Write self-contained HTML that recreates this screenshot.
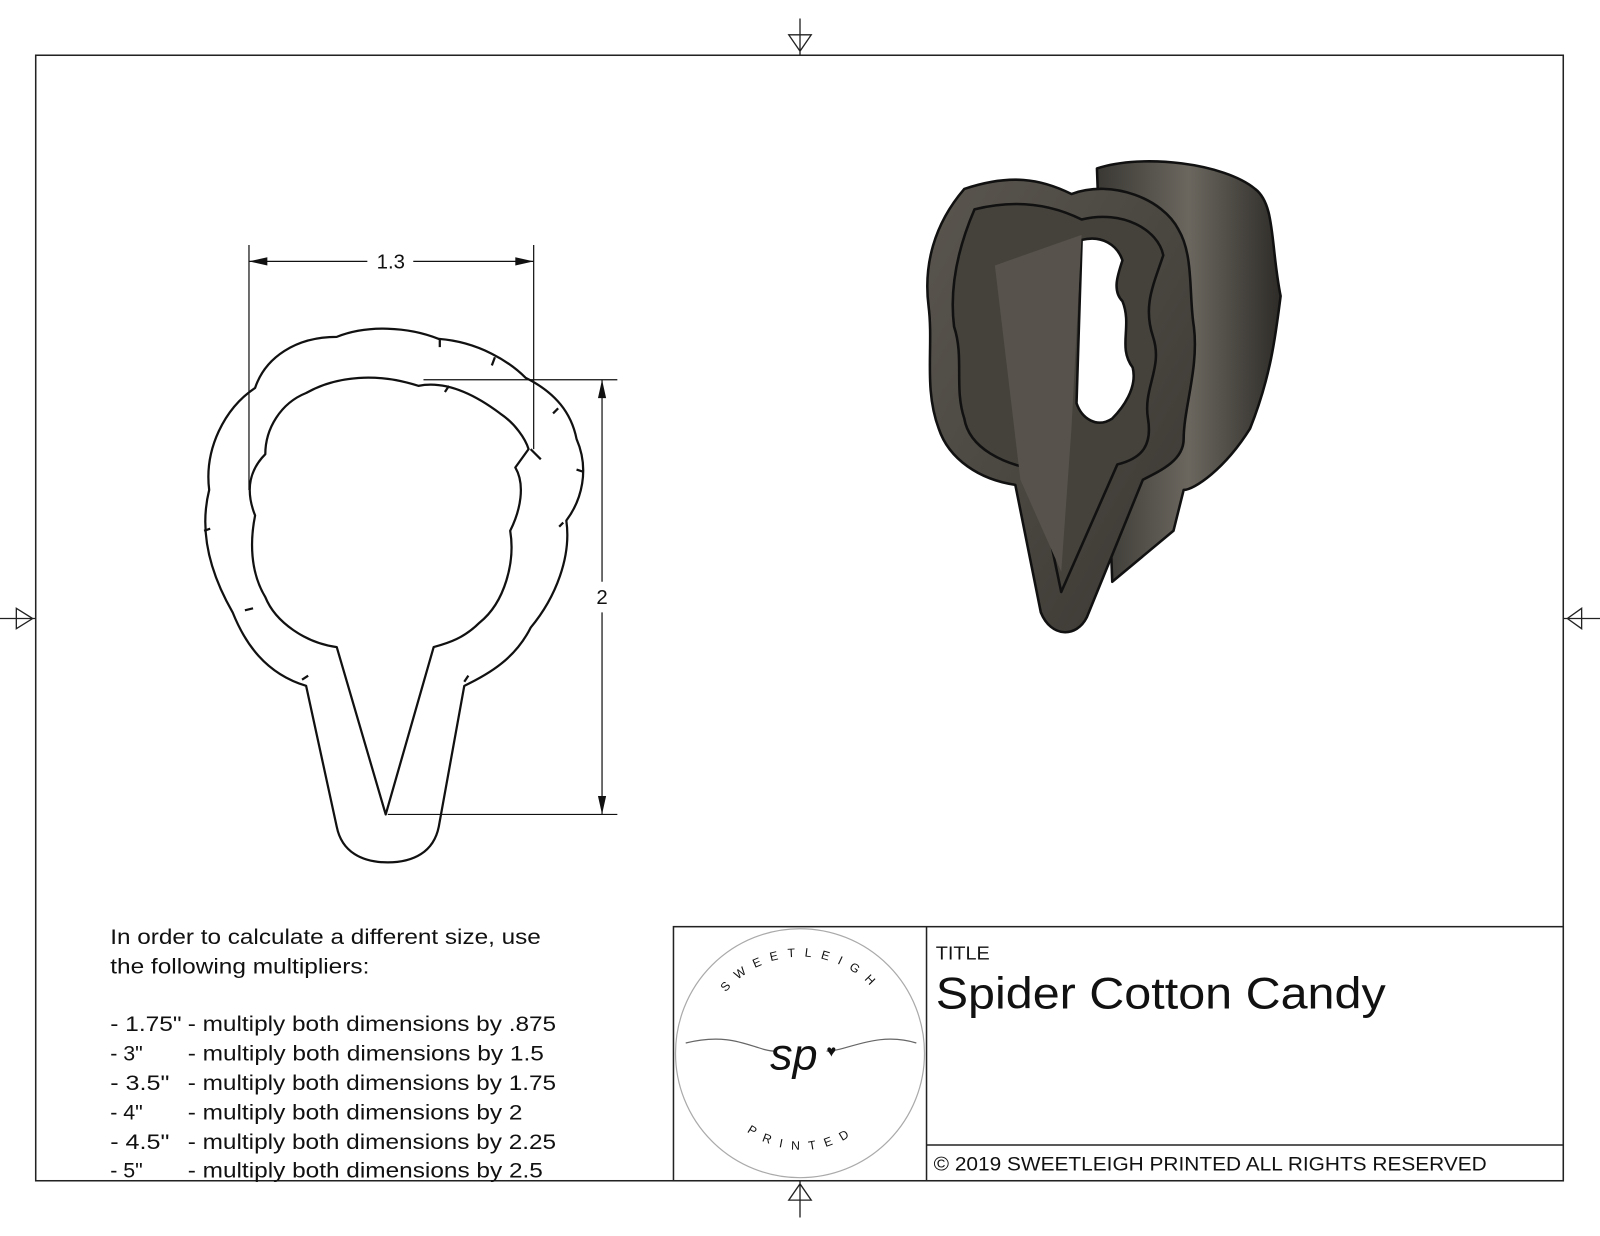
<!DOCTYPE html>
<html><head><meta charset="utf-8"><style>
html,body{margin:0;padding:0;background:#fff;}
svg{display:block;}
text{font-family:"Liberation Sans",Arial,sans-serif;fill:#111;}
</style></head><body>
<svg width="1600" height="1236" viewBox="0 0 1568 1211" xmlns="http://www.w3.org/2000/svg">
<defs>
<linearGradient id="g1" x1="0" y1="0" x2="1" y2="0">
<stop offset="0" stop-color="#3a3833"/><stop offset="0.5" stop-color="#6b675f"/><stop offset="1" stop-color="#2e2c28"/></linearGradient>
<linearGradient id="g2" x1="0" y1="0" x2="1" y2="1">
<stop offset="0" stop-color="#5a564f"/><stop offset="1" stop-color="#3a3732"/></linearGradient>
<path id="arcTop" d="M700 990 A95 95 0 0 1 870 990"/>
<path id="arcBot" d="M722 1100 A90 90 0 0 0 850 1100"/>
</defs>
<rect x="0" y="0" width="1568" height="1211" fill="#fff"/>
<rect x="35" y="54" width="1497" height="1103" fill="none" stroke="#222" stroke-width="1.5"/>
<g fill="none" stroke="#222" stroke-width="1.3">
<path d="M784 18V54M773 34H795L784 50Z"/>
<path d="M784 1157V1193M773 1176H795L784 1160Z"/>
<path d="M0 606H35M16 596V616L32 606Z"/>
<path d="M1532 606H1568M1550 596V616L1536 606Z"/>
</g>
<g fill="none" stroke="#111" stroke-width="2.2" stroke-linejoin="round">
<path d="M300 672 C260 660 240 630 228 600 C205 560 195 520 205 480 C200 440 220 400 250 380 C260 350 290 330 330 330 C360 318 400 320 430 332 C470 335 500 355 515 370 C545 385 560 405 565 430 C578 460 570 490 555 510 C560 545 545 585 520 615 C505 645 480 660 455 672 L430 810 C425 835 405 845 380 845 C355 845 335 835 330 810 Z"/>
<path d="M330 634 C300 630 270 610 260 585 C245 560 245 530 250 505 C240 480 245 460 260 445 C260 420 275 395 300 385 C330 368 370 365 410 378 C440 372 470 390 490 405 C505 415 515 430 518 440 L505 458 C515 475 510 500 500 520 C505 550 495 590 470 610 C455 625 440 630 425 634 L378 798 Z"/>
<path d="M206 518L200 520M240 598L248 596M296 666L302 662M455 668L459 662M552 512L548 516M565 460L571 462M547 400L542 405M485 350L482 358M431 332L431 340M520 440L530 450M440 378L436 384"/>
</g>
<g stroke="#111" stroke-width="1.2" fill="none">
<path d="M244 240V480M523 240V440M244 256H360M405 256H523"/>
<path d="M415 372H605M380 798H605M590 372V570M590 600V798"/>
</g>
<g fill="#111">
<path d="M244 256L262 252V260Z"/><path d="M523 256L505 252V260Z"/>
<path d="M590 372L586 390H594Z"/><path d="M590 798L586 780H594Z"/>
</g>
<text x="383" y="263" font-size="20" text-anchor="middle">1.3</text>
<text x="590" y="592" font-size="20" text-anchor="middle">2</text>
<g stroke="#111" stroke-width="2.5" stroke-linejoin="round">
<path d="M1075 165 C1120 150 1200 160 1230 185 C1250 200 1245 240 1255 290 C1250 330 1245 370 1225 420 C1200 460 1170 480 1160 480 L1150 520 L1090 570 Z" fill="url(#g1)"/>
<path d="M945 185 C990 170 1020 175 1050 190 C1090 175 1140 195 1155 225 C1170 250 1165 290 1170 320 C1175 360 1160 400 1160 430 C1160 450 1140 460 1120 470 L1065 605 C1055 625 1030 625 1020 600 L995 475 C960 470 930 450 920 420 C905 380 915 340 910 300 C905 260 915 220 945 185 Z" fill="url(#g2)"/>
<path d="M955 205 C995 195 1030 200 1060 215 C1100 205 1135 225 1140 250 C1130 280 1120 300 1130 330 C1140 360 1120 380 1125 410 C1130 440 1115 450 1095 455 L1040 580 L1015 460 C985 455 950 440 945 410 C935 380 945 350 935 320 C930 280 940 240 955 205 Z" fill="#45423c"/>
<path d="M1060 235 C1080 230 1095 240 1100 255 C1095 270 1090 285 1100 295 C1110 320 1095 340 1110 360 C1115 380 1100 400 1090 410 C1075 420 1060 410 1055 395 Z" fill="#fff"/>
<path d="M975 260 L1060 230 L1050 420 L1040 560 L1000 470 Z" fill="#57534c" stroke="none"/>
</g>
<g font-size="21">
<text x="108" y="925" textLength="422" lengthAdjust="spacingAndGlyphs">In order to calculate a different size, use</text>
<text x="108" y="954" textLength="254" lengthAdjust="spacingAndGlyphs">the following multipliers:</text>
<text x="108" y="1010" textLength="70" lengthAdjust="spacingAndGlyphs">- 1.75"</text><text x="184" y="1010" textLength="361" lengthAdjust="spacingAndGlyphs">- multiply both dimensions by .875</text>
<text x="108" y="1039">- 3"</text><text x="184" y="1039" textLength="349" lengthAdjust="spacingAndGlyphs">- multiply both dimensions by 1.5</text>
<text x="108" y="1068" textLength="58" lengthAdjust="spacingAndGlyphs">- 3.5"</text><text x="184" y="1068" textLength="361" lengthAdjust="spacingAndGlyphs">- multiply both dimensions by 1.75</text>
<text x="108" y="1097">- 4"</text><text x="184" y="1097" textLength="328" lengthAdjust="spacingAndGlyphs">- multiply both dimensions by 2</text>
<text x="108" y="1126" textLength="58" lengthAdjust="spacingAndGlyphs">- 4.5"</text><text x="184" y="1126" textLength="361" lengthAdjust="spacingAndGlyphs">- multiply both dimensions by 2.25</text>
<text x="108" y="1154">- 5"</text><text x="184" y="1154" textLength="348" lengthAdjust="spacingAndGlyphs">- multiply both dimensions by 2.5</text>
</g>
<g fill="none" stroke="#222" stroke-width="1.5">
<rect x="660" y="908" width="872" height="249"/>
<path d="M908 908V1157M908 1122H1532"/>
</g>
<circle cx="784" cy="1032" r="122" fill="none" stroke="#aaa" stroke-width="1.2"/>
<text font-size="12" font-family="Liberation Serif" letter-spacing="9" fill="#444"><textPath href="#arcTop" startOffset="50%" text-anchor="middle">SWEETLEIGH</textPath></text>
<text font-size="12" font-family="Liberation Serif" letter-spacing="9" fill="#444"><textPath href="#arcBot" startOffset="50%" text-anchor="middle">PRINTED</textPath></text>
<path d="M672 1022 C720 1010 740 1030 760 1030 M810 1030 C830 1030 860 1010 898 1022" stroke="#666" fill="none" stroke-width="1.2"/>
<text x="778" y="1048" font-size="44" font-family="Liberation Serif" font-style="italic" text-anchor="middle" fill="#555">sp</text>
<text x="810" y="1035" font-size="16" fill="#d4a93a">♥</text>
<text x="917" y="940" font-size="18" textLength="53" lengthAdjust="spacingAndGlyphs">TITLE</text>
<text x="917" y="988" font-size="44" textLength="441" lengthAdjust="spacingAndGlyphs">Spider Cotton Candy</text>
<text x="915" y="1147" font-size="19" textLength="542" lengthAdjust="spacingAndGlyphs">© 2019  SWEETLEIGH PRINTED  ALL RIGHTS RESERVED</text>
</svg>
</body></html>
